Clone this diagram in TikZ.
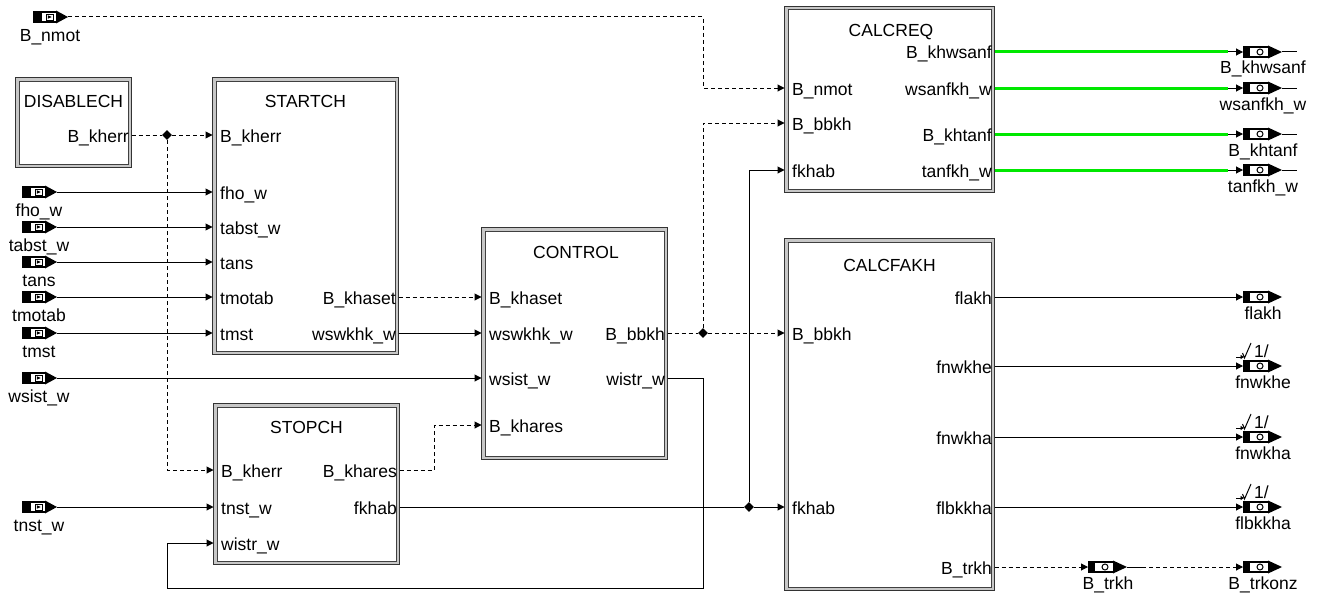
\documentclass[tikz,border=0pt]{standalone}
\usepackage{fontspec}
\setmainfont{Liberation Sans}
\usetikzlibrary{arrows.meta,shapes.geometric,calc}
\definecolor{sigreen}{RGB}{0,232,0}
\newcommand\lblfont{\fontsize{17.5}{20}\selectfont}
\tikzset{
  blk/.style={draw=black!80, fill=black!22, line width=1pt, inner sep=0pt, outer sep=0pt},
  blkin/.style={draw=black!75, fill=white, line width=1pt},
  sig/.style={line width=1pt, -{Triangle[length=7pt,width=7pt]}},
  dsig/.style={sig, dash pattern=on 4pt off 3pt},
  plain/.style={line width=1pt},
  dplain/.style={plain, dash pattern=on 4pt off 3pt},
  grn/.style={line width=3pt, draw=sigreen},
  jn/.style={diamond, fill=black, inner sep=0pt, minimum size=10pt},
  lbl/.style={inner sep=0pt, font=\lblfont},
  inport/.pic={
    \fill (0,-6) rectangle (23,6);
    \fill[white] (8.5,-3.8) rectangle (22.5,3.8);
    \draw[line width=0.9pt] (13,-3) rectangle (20,3);
    \fill (14.8,-1.8) -- (18.6,0) -- (14.8,1.8) -- cycle;
    \fill (23,-6.5) -- (35,0) -- (23,6.5) -- cycle;
    \coordinate (-tip) at (35,0);
  },
  outport/.pic={
    \fill (0,-6) rectangle (25,6);
    \fill[white] (6.5,-3.8) rectangle (24.5,3.8);
    \draw[line width=1pt] (17,0) circle (3);
    \fill (25,-6.5) -- (39,0) -- (25,6.5) -- cycle;
    \coordinate (-in) at (0,0);
    \coordinate (-tip) at (39,0);
  },
  anno/.pic={
    \draw[line width=0.9pt, -{Triangle[length=3.5pt,width=4pt]}] (-8,0) -- (0,0);
    \draw[line width=1pt] (-1.5,-4) -- (0.5,1) -- (7,-14);
    \node[lbl, anchor=base west] at (10,0) {1/};
  }
}
\begin{document}
\begin{tikzpicture}[x=1pt,y=-1pt]
\useasboundingbox[fill=white] (0,0) rectangle (1319,594);

% ---------- blocks ----------
\node[blk, minimum width=116pt, minimum height=90pt] (dis) at (73.5,122.5) {};
\node[blk, minimum width=186pt, minimum height=277pt] (start) at (305.5,216) {};
\node[blk, minimum width=186pt, minimum height=161pt] (stop) at (306.5,484) {};
\node[blk, minimum width=186pt, minimum height=232pt] (ctrl) at (574.5,343.5) {};
\node[blk, minimum width=210pt, minimum height=186pt] (req) at (889.5,99.5) {};
\node[blk, minimum width=210pt, minimum height=352pt] (fakh) at (889.5,414.5) {};
\foreach \b in {dis,start,stop,ctrl,req,fakh}{
  \draw[blkin] ([shift={(3.5,3.5)}]\b.north west) rectangle ([shift={(-3.5,-3.5)}]\b.south east);
}

% ---------- block texts ----------
\node[lbl, anchor=base] at (73.5,107) {DISABLECH};
\node[lbl, anchor=base east] at (129,142) {B\_kherr};

\node[lbl, anchor=base] at (305.5,107) {STARTCH};
\node[lbl, anchor=base west] at (220,142) {B\_kherr};
\node[lbl, anchor=base west] at (220,199) {fho\_w};
\node[lbl, anchor=base west] at (220,234) {tabst\_w};
\node[lbl, anchor=base west] at (220,269) {tans};
\node[lbl, anchor=base west] at (220,304) {tmotab};
\node[lbl, anchor=base west] at (220,340) {tmst};
\node[lbl, anchor=base east] at (396,304) {B\_khaset};
\node[lbl, anchor=base east] at (396,340) {wswkhk\_w};

\node[lbl, anchor=base] at (306.5,433) {STOPCH};
\node[lbl, anchor=base west] at (221,477) {B\_kherr};
\node[lbl, anchor=base west] at (221,514) {tnst\_w};
\node[lbl, anchor=base west] at (221,550) {wistr\_w};
\node[lbl, anchor=base east] at (397,477) {B\_khares};
\node[lbl, anchor=base east] at (397,514) {fkhab};

\node[lbl, anchor=base] at (576,258) {CONTROL};
\node[lbl, anchor=base west] at (489,304) {B\_khaset};
\node[lbl, anchor=base west] at (489,340) {wswkhk\_w};
\node[lbl, anchor=base west] at (489,385) {wsist\_w};
\node[lbl, anchor=base west] at (489,432) {B\_khares};
\node[lbl, anchor=base east] at (665,340) {B\_bbkh};
\node[lbl, anchor=base east] at (665,385) {wistr\_w};

\node[lbl, anchor=base] at (891,37) {CALCREQ};
\node[lbl, anchor=base west] at (792,95) {B\_nmot};
\node[lbl, anchor=base west] at (792,130) {B\_bbkh};
\node[lbl, anchor=base west] at (792,177) {fkhab};
\node[lbl, anchor=base east] at (992,59) {B\_khwsanf};
\node[lbl, anchor=base east] at (992,95) {wsanfkh\_w};
\node[lbl, anchor=base east] at (992,141) {B\_khtanf};
\node[lbl, anchor=base east] at (992,177) {tanfkh\_w};

\node[lbl, anchor=base] at (889.5,271) {CALCFAKH};
\node[lbl, anchor=base west] at (792,340) {B\_bbkh};
\node[lbl, anchor=base west] at (792,514) {fkhab};
\node[lbl, anchor=base east] at (992,304) {flakh};
\node[lbl, anchor=base east] at (992,373) {fnwkhe};
\node[lbl, anchor=base east] at (992,444) {fnwkha};
\node[lbl, anchor=base east] at (992,514) {flbkkha};
\node[lbl, anchor=base east] at (992,574) {B\_trkh};

% ---------- input ports ----------
\pic (nmot) at (33,17) {inport};   \node[lbl, anchor=base] at (50,42) {B\_nmot};
\pic (fho) at (22,192) {inport};   \node[lbl, anchor=base] at (39,216) {fho\_w};
\pic (tabst) at (22,227) {inport}; \node[lbl, anchor=base] at (39,251) {tabst\_w};
\pic (tans) at (22,262) {inport};  \node[lbl, anchor=base] at (39,286) {tans};
\pic (tmotab) at (22,297) {inport};\node[lbl, anchor=base] at (39,321) {tmotab};
\pic (tmst) at (22,333) {inport};  \node[lbl, anchor=base] at (39,357) {tmst};
\pic (wsist) at (22,378) {inport}; \node[lbl, anchor=base] at (39,402) {wsist\_w};
\pic (tnst) at (22,507) {inport};  \node[lbl, anchor=base] at (39,531) {tnst\_w};

% ---------- output ports ----------
\pic (okhwsanf) at (1243,52) {outport};  \node[lbl, anchor=base] at (1263,74) {B\_khwsanf};
\pic (owsanfkh) at (1243,88) {outport};  \node[lbl, anchor=base] at (1263,110) {wsanfkh\_w};
\pic (okhtanf) at (1243,134) {outport};  \node[lbl, anchor=base] at (1263,156) {B\_khtanf};
\pic (otanfkh) at (1243,170) {outport};  \node[lbl, anchor=base] at (1263,192) {tanfkh\_w};
\pic (oflakh) at (1243,297) {outport};   \node[lbl, anchor=base] at (1263,319) {flakh};
\pic (ofnwkhe) at (1243,366) {outport};  \node[lbl, anchor=base] at (1263,388) {fnwkhe};
\pic (ofnwkha) at (1243,437) {outport};  \node[lbl, anchor=base] at (1263,459) {fnwkha};
\pic (oflbkkha) at (1243,507) {outport}; \node[lbl, anchor=base] at (1263,529) {flbkkha};
\pic (otrkh) at (1088,567) {outport};    \node[lbl, anchor=base] at (1108,589) {B\_trkh};
\pic (otrkonz) at (1243,567) {outport};  \node[lbl, anchor=base] at (1263,589) {B\_trkonz};

\pic at (1244,357) {anno};
\pic at (1244,428) {anno};
\pic at (1244,498) {anno};

% tails of the CALCREQ output ports
\foreach \p in {okhwsanf,owsanfkh,okhtanf,otanfkh}{
  \draw[plain] (\p-tip) -- ++(15,0);
}

% ---------- junctions ----------
\node[jn] (j1) at (167,135) {};
\node[jn] (j2) at (703,333) {};
\node[jn] (j3) at (749,507) {};

% ---------- connectors ----------
\draw[dsig] (nmot-tip) -- (703,17) -- (703,88) -- (req.west |- 0,88);

\draw[dplain] (dis.east |- j1) -- (j1);
\draw[dsig] (j1) -- (start.west |- j1);
\draw[dsig] (j1) |- (stop.west |- 0,470);

\foreach \p in {fho,tabst,tans,tmotab,tmst}{
  \draw[sig] (\p-tip) -- (\p-tip -| start.west);
}
\draw[sig] (wsist-tip) -- (wsist-tip -| ctrl.west);
\draw[sig] (tnst-tip) -- (tnst-tip -| stop.west);

\draw[dsig] (start.east |- 0,297) -- (ctrl.west |- 0,297);
\draw[sig] (start.east |- 0,333) -- (ctrl.west |- 0,333);

\draw[dsig] (stop.east |- 0,470) -- (434,470) -- (434,425) -- (ctrl.west |- 0,425);

\draw[plain] (stop.east |- j3) -- (j3);
\draw[sig] (j3) -- (fakh.west |- j3);
\draw[sig] (j3) |- (req.west |- 0,170);

\draw[dplain] (ctrl.east |- j2) -- (j2);
\draw[dsig] (j2) -- (fakh.west |- j2);
\draw[dsig] (j2) |- (req.west |- 0,123);

\draw[sig] (ctrl.east |- 0,378) -- (703,378) -- (703,588) -- (167,588) -- (167,543) -- (stop.west |- 0,543);

% CALCREQ outputs (green)
\foreach \p in {okhwsanf,owsanfkh,okhtanf,otanfkh}{
  \draw[grn] (\p-in -| req.east) -- ([xshift=-15pt]\p-in);
  \draw[sig] ([xshift=-15pt]\p-in) -- (\p-in);
}

% CALCFAKH outputs
\foreach \p in {oflakh,ofnwkhe,ofnwkha,oflbkkha}{
  \draw[sig] (\p-in -| fakh.east) -- (\p-in);
}
\draw[dsig] (otrkh-in -| fakh.east) -- (otrkh-in);
\draw[plain] (otrkh-tip) -- ++(15,0) coordinate (trkhtail);
\draw[dsig] (trkhtail) -- (otrkonz-in);
\end{tikzpicture}
\end{document}
